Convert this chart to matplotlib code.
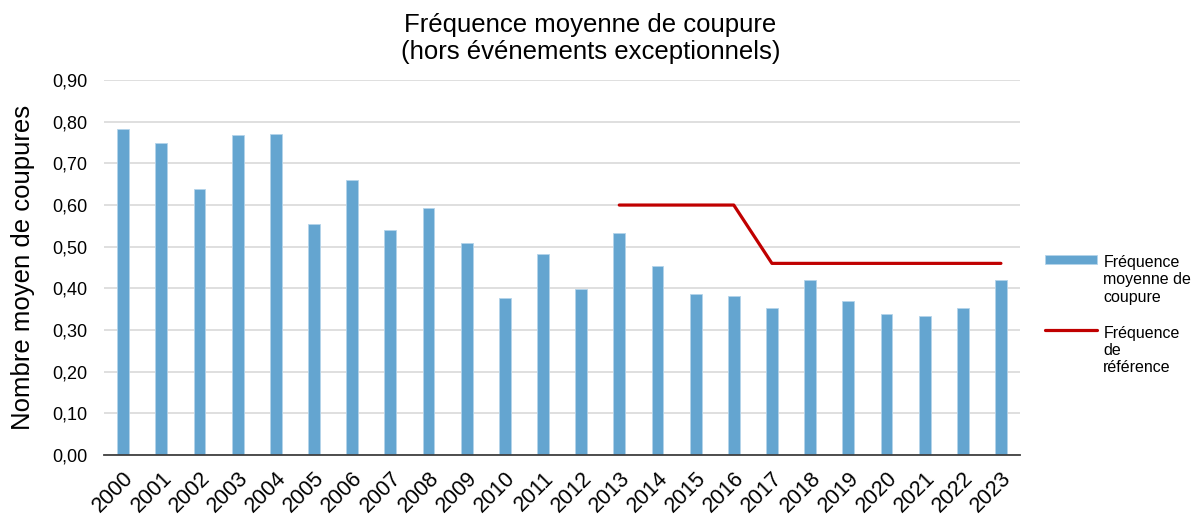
import matplotlib.pyplot as plt
from matplotlib.ticker import FuncFormatter

plt.rcParams['font.family'] = ['Liberation Sans', 'DejaVu Sans']

# data
years = [str(y) for y in range(2000, 2024)]
frequence_moyenne = [0.783, 0.748, 0.638, 0.767, 0.770, 0.555, 0.661, 0.541,
                     0.592, 0.510, 0.377, 0.482, 0.399, 0.533, 0.454, 0.386,
                     0.382, 0.354, 0.420, 0.370, 0.339, 0.334, 0.353, 0.420]
ref_years = ['2013', '2014', '2015', '2016', '2017', '2018', '2019', '2020',
             '2021', '2022', '2023']
frequence_reference = [0.60, 0.60, 0.60, 0.60, 0.46, 0.46, 0.46, 0.46,
                       0.46, 0.46, 0.46]

fig = plt.figure(figsize=(11.93, 5.2), dpi=100)
ax = fig.add_axes([0.0872, 0.125, 0.7678, 0.721])

x = list(range(len(years)))
bars = ax.bar(x, frequence_moyenne, width=0.31, color='#64a5d0',
              edgecolor='#b4d4ea', linewidth=0.6, zorder=2,
              label='Fréquence\nmoyenne de\ncoupure')
ref_x = [years.index(y) for y in ref_years]
line, = ax.plot(ref_x, frequence_reference, color='#c00000', linewidth=2.3,
                solid_capstyle='round', zorder=3, label='Fréquence\nde\nréférence')

ax.set_xlim(-0.5, len(years) - 0.5)
ax.set_ylim(0, 0.9)
ax.set_yticks([i / 10 for i in range(10)])
ax.yaxis.set_major_formatter(FuncFormatter(lambda v, p: f'{v:.2f}'.replace('.', ',')))
ax.set_xticks(x)
ax.set_xticklabels(years, rotation=45, ha='right', rotation_mode='anchor')
ax.tick_params(axis='both', length=0, colors='black')
ax.tick_params(axis='y', labelsize=13, pad=12)
ax.tick_params(axis='x', labelsize=15.5, pad=9)

ax.grid(axis='y', color='#d9d9d9', linewidth=1.2, zorder=0)
ax.set_axisbelow(True)
for side in ['top', 'right', 'left']:
    ax.spines[side].set_visible(False)
ax.spines['bottom'].set_color('#404040')
ax.spines['bottom'].set_linewidth(1.3)
ax.spines['bottom'].set_zorder(4)

ax.set_ylabel('Nombre moyen de coupures', fontsize=18.5, labelpad=12)
fig.text(0.495, 0.975, 'Fréquence moyenne de coupure\n(hors événements exceptionnels)',
         ha='center', va='top', fontsize=18.5, linespacing=1.15)

leg = fig.legend(handles=[bars, line], loc='center left',
                 bbox_to_anchor=(0.876, 0.394),
                 frameon=False, fontsize=11.5, handlelength=3.25,
                 handleheight=0.45, handletextpad=0.4, labelspacing=1.3,
                 borderpad=0, borderaxespad=0)
for col in leg._legend_handle_box.get_children():
    for item in col.get_children():
        item.align = 'top'

fig.savefig('out.png', dpi=100)
